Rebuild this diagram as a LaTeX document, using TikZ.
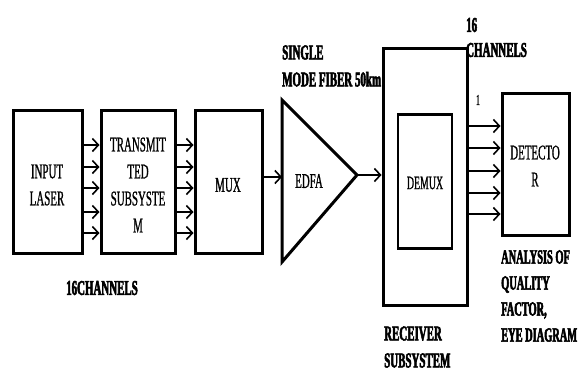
\documentclass[tikz,border=0pt]{standalone}
\usepackage{fontspec}
\setmainfont[FakeStretch=0.52,UprightFeatures={FakeBold=0.8},BoldFeatures={FakeBold=2.5}]{Liberation Serif}
\usetikzlibrary{arrows.meta}
\begin{document}
\begin{tikzpicture}[x=1pt,y=-1pt,
  blk/.style={draw,line width=3pt,minimum width=#1,inner sep=0pt},
  arr/.style={line width=2.5pt,-{Straight Barb[length=6pt,width=13pt,line width=1.6pt]}},
  lbl/.style={inner sep=0pt,align=center,font=\fontsize{21}{27}\selectfont},
  blbl/.style={inner sep=0pt,align=left,font=\fontsize{21}{27}\selectfont\bfseries}]
\useasboundingbox (0,0) rectangle (578,372);
% blocks
\node[blk=69pt,minimum height=143pt] (in) at (47.5,181.5) {};
\node[blk=74pt,minimum height=143pt] (tr) at (138,181.5) {};
\node[blk=67pt,minimum height=143pt] (mux) at (228.5,181.5) {};
\node[blk=84pt,minimum height=257pt] (rx) at (425,176.5) {};
\node[draw,line width=1.4pt,minimum width=54pt,minimum height=133pt,inner sep=0pt] (dmx) at (425,181.5) {};
\draw[line width=3pt] (dmx.north west) -- (dmx.north east) (dmx.south west) -- (dmx.south east);
\node[blk=67pt,minimum height=142pt] (det) at (535.5,164) {};
% EDFA triangle
\coordinate (ea) at (282,100);
\coordinate (eb) at (282,262);
\coordinate (ec) at (357,175);
\draw[line width=3pt,line join=miter] (ea) -- (ec) -- (eb) -- cycle;
% texts
\node[lbl] (tin) at (47,185) {INPUT\\LASER};
\node[lbl] (ttr) at (138,185) {TRANSMIT\\TED\\SUBSYSTE\\M};
\node[lbl] (tmux) at (228,185) {MUX};
\node[lbl] (tedfa) at (309,181) {EDFA};
\node[lbl,font=\fontsize{19}{24}\selectfont] (tdmx) at (425,183) {DEMUX};
\node[lbl] (tdet) at (535,166) {DETECTO\\R};
\node[lbl,font=\fontsize{15}{16}\selectfont] (tone) at (478,100) {1};
\node[blbl,font=\fontsize{21}{25}\selectfont\bfseries,anchor=west] (tch) at (466,37.5) {16\\CHANNELS};
\node[blbl,anchor=west] (tsmf) at (282,66) {SINGLE\\MODE FIBER 50km};
\node[blbl] (t16) at (102,288) {16CHANNELS};
\node[blbl,anchor=west] (trx) at (384,347) {RECEIVER\\SUBSYSTEM};
\node[blbl,font=\fontsize{20}{26}\selectfont\bfseries,anchor=west] (tan) at (501,296) {ANALYSIS OF\\QUALITY\\FACTOR,\\EYE DIAGRAM};
% arrows
\foreach \y in {145,167,188,212,233} {
  \draw[arr] (in.east |- 0,\y) -- (tr.west |- 0,\y);
  \draw[arr] (tr.east |- 0,\y) -- (mux.west |- 0,\y);
}
\draw[arr] (mux.east |- 0,177) -- (ea |- 0,177);
\draw[arr] (ec) -- (rx.west |- ec);
\foreach \y in {126,148,171,193,214} {
  \draw[arr] (rx.east |- 0,\y) -- (det.west |- 0,\y);
}
\end{tikzpicture}
\end{document}
